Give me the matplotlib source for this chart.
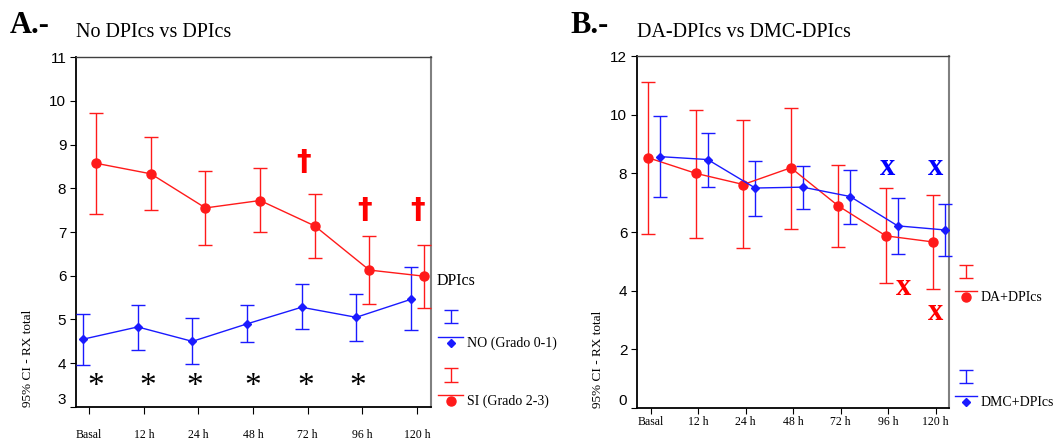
import numpy as np
import matplotlib
matplotlib.use("Agg")
import matplotlib.pyplot as plt
from matplotlib.lines import Line2D

#====== data ======
times = ["Basal", "12 h", "24 h", "48 h", "72 h", "96 h", "120 h"]

# panel A : No DPIcs vs DPIcs
no_mean = [4.55, 4.83, 4.50, 4.90, 5.28, 5.05, 5.46]
no_hi   = [5.12, 5.33, 5.03, 5.33, 5.81, 5.59, 6.19]
no_lo   = [3.97, 4.31, 3.98, 4.48, 4.78, 4.51, 4.77]
si_mean = [8.57, 8.33, 7.55, 7.72, 7.14, 6.13, 5.99]
si_hi   = [9.72, 9.18, 8.40, 8.46, 7.87, 6.92, 6.70]
si_lo   = [7.42, 7.50, 6.70, 7.00, 6.40, 5.35, 5.27]
star_x  = [0.13, 1.08, 1.94, 3.00, 3.97, 4.92]
star_y  = 3.65
dagger_x = [3.93, 5.05, 6.01]
dagger_y = [8.60, 7.50, 7.50]

# panel B : DA-DPIcs vs DMC-DPIcs
da_mean  = [8.53, 8.00, 7.62, 8.19, 6.89, 5.87, 5.66]
da_hi    = [11.13, 10.17, 9.82, 10.22, 8.28, 7.50, 7.26]
da_lo    = [5.94, 5.81, 5.44, 6.12, 5.50, 4.27, 4.06]
dmc_mean = [8.57, 8.47, 7.50, 7.53, 7.21, 6.21, 6.07]
dmc_hi   = [9.94, 9.37, 8.43, 8.25, 8.11, 7.15, 6.94]
dmc_lo   = [7.19, 7.53, 6.55, 6.78, 6.29, 5.24, 5.19]
xb_x = [4.99, 5.99]
xb_y = [8.21, 8.21]
xr_x = [5.32, 5.99]
xr_y = [4.12, 3.27]

RED = "#ff1a1a"
BLUE = "#1a1aff"
SERIF = "Liberation Serif"
SANS = "Liberation Sans"

fig = plt.figure(figsize=(10.59, 4.45), dpi=100)
axA = fig.add_axes([0.0718, 0.0854, 0.3352, 0.7865])
axB = fig.add_axes([0.6015, 0.0831, 0.2946, 0.791])

x = np.arange(len(times))


def ci_plot(ax, xs, mean, lo, hi, color, marker, ms):
    mean = np.array(mean)
    err = [mean - np.array(lo), np.array(hi) - mean]
    ax.errorbar(xs, mean, yerr=err, color=color, ecolor=color, lw=1.0,
                elinewidth=1.0, capsize=5, capthick=1.0, marker=marker,
                ms=ms, mec=color, mfc=color, clip_on=False, zorder=3)


def frame(ax):
    for s in ["left", "bottom"]:
        ax.spines[s].set_color("black")
        ax.spines[s].set_linewidth(1.3)
    ax.spines["top"].set_color("#404040")
    ax.spines["right"].set_color("#808080")
    ax.spines["top"].set_linewidth(1.0)
    ax.spines["right"].set_linewidth(1.5)
    ax.set_xticks(x)
    ax.set_xticklabels(times, fontfamily=SERIF, fontsize=8.5)
    for lab in ax.get_yticklabels():
        lab.set_fontfamily(SANS)
        lab.set_fontsize(11)
    ax.get_yticklabels()[0].set_va("bottom")


def legend_item(ax, y_icon, y_line, text, color, marker, ms):
    # errorbar icon above the line + marker sample
    yc = np.mean(y_icon)
    ax.errorbar([1.056], [yc], yerr=[[yc - y_icon[0]], [y_icon[1] - yc]],
                color=color, lw=1.0, capsize=5, transform=ax.transAxes, clip_on=False, fmt="none")
    ax.add_line(Line2D([1.02, 1.09], [y_line, y_line], color=color, lw=1.0,
                       transform=ax.transAxes, clip_on=False))
    ax.plot([1.056], [y_line - 0.018], marker=marker, color=color, ms=ms,
            transform=ax.transAxes, clip_on=False)
    ax.text(1.102, y_line - 0.018, text, transform=ax.transAxes, fontfamily=SERIF,
            fontsize=10, va="center", ha="left")


#====== panel A ======
ci_plot(axA, x - 0.11, no_mean, no_lo, no_hi, BLUE, "D", 4)
ci_plot(axA, x + 0.13, si_mean, si_lo, si_hi, RED, "o", 6.5)
axA.set_xlim(-0.24, 6.26)
axA.set_ylim(3, 11)
axA.set_yticks(np.arange(3, 12, 1))
axA.tick_params(axis="x", length=5, pad=11, color="black")
axA.tick_params(axis="y", length=4, pad=3)
frame(axA)
for sx in star_x:
    axA.annotate("*", (sx, star_y), xytext=(0, -6), textcoords="offset points",
                 fontfamily=SERIF, fontsize=24, ha="center", va="center")
for dx, dy in zip(dagger_x, dagger_y):
    axA.text(dx, dy, "\u2020", fontfamily="DejaVu Sans", fontweight="bold", fontsize=21,
             color="red", ha="center", va="center")
axA.text(-0.135, 0.0, "95% CI - RX total", transform=axA.transAxes, rotation=90,
         fontfamily=SERIF, fontsize=9.5, ha="center", va="bottom")
axA.text(1.017, 0.36, "DPIcs", transform=axA.transAxes, fontfamily=SERIF,
         fontsize=11.5, va="center", ha="left")
legend_item(axA, (0.24, 0.277), 0.20, "NO (Grado 0-1)", BLUE, "D", 4)
legend_item(axA, (0.071, 0.111), 0.034, "SI (Grado 2-3)", RED, "o", 6.5)

#====== panel B ======
ci_plot(axB, x - 0.05, da_mean, da_lo, da_hi, RED, "o", 6.5)
ci_plot(axB, x + 0.20, dmc_mean, dmc_lo, dmc_hi, BLUE, "D", 4)
axB.set_xlim(-0.29, 6.28)
axB.set_ylim(0, 12)
axB.set_yticks(np.arange(0, 13, 2))
axB.tick_params(axis="x", length=4, pad=2, color="black")
axB.tick_params(axis="y", length=4, pad=3)
frame(axB)
for px, py in zip(xb_x, xb_y):
    axB.text(px, py, "x", fontfamily=SERIF, fontweight="bold", fontsize=22,
             color="blue", ha="center", va="center")
for px, py in zip(xr_x, xr_y):
    axB.text(px, py, "x", fontfamily=SERIF, fontweight="bold", fontsize=22,
             color="red", ha="center", va="center")
axB.text(-0.125, 0.0, "95% CI - RX total", transform=axB.transAxes, rotation=90,
         fontfamily=SERIF, fontsize=9.5, ha="center", va="bottom")
legend_item(axB, (0.369, 0.406), 0.332, "DA+DPIcs", RED, "o", 6.5)
legend_item(axB, (0.071, 0.108), 0.034, "DMC+DPIcs", BLUE, "D", 4)

#====== titles ======
fig.text(10 / 1059, 1 - 33 / 445, "A.-", fontfamily=SERIF, fontweight="bold", fontsize=22,
         va="baseline", ha="left")
fig.text(76 / 1059, 1 - 37 / 445, "No DPIcs vs DPIcs", fontfamily=SERIF, fontsize=14.5,
         va="baseline", ha="left")
fig.text(570 / 1059, 1 - 33 / 445, "B.-", fontfamily=SERIF, fontweight="bold", fontsize=22,
         va="baseline", ha="left")
fig.text(637 / 1059, 1 - 37 / 445, "DA-DPIcs vs DMC-DPIcs", fontfamily=SERIF, fontsize=14.5,
         va="baseline", ha="left")

fig.savefig("out.png", dpi=100)
